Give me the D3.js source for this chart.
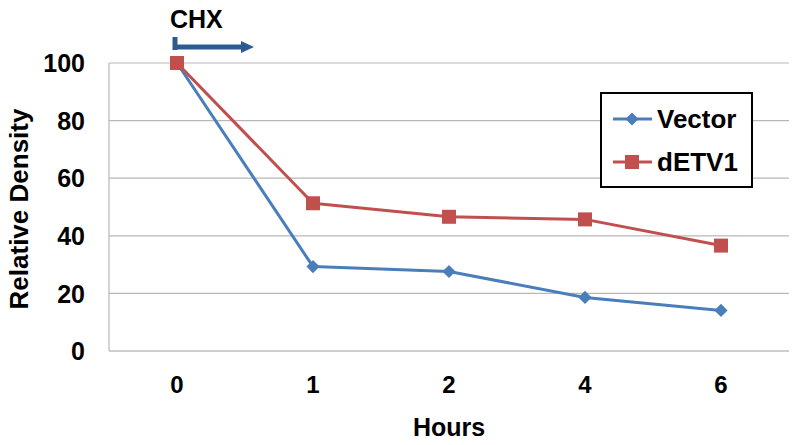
<!DOCTYPE html>
<html>
<head>
<meta charset="utf-8">
<script src="https://cdn.jsdelivr.net/npm/d3@7"></script>
<style>
  body { margin: 0; background: #fff; }
  text { font-family: "Liberation Sans", Arial, sans-serif; font-weight: bold; fill: #000; }
</style>
</head>
<body>
<div id="chart"></div>
<script>
// Data
const hours = ['0', '1', '2', '4', '6'];
const vector = [100, 29.3, 27.6, 18.6, 14.1];
const detv1 = [100, 51.3, 46.6, 45.7, 36.6];
const yTicks = [0, 20, 40, 60, 80, 100];

const width = 800, height = 445;
const margin = { top: 63, right: 11, bottom: 94, left: 109 };

const svg = d3.select('#chart').append('svg')
  .attr('width', width)
  .attr('height', height);

const x = d3.scaleBand()
  .domain(hours)
  .range([margin.left, width - margin.right]);

const y = d3.scaleLinear()
  .domain([0, 100])
  .range([height - margin.bottom, margin.top]);

const cx = d => x(d) + x.bandwidth() / 2;

// Gridlines
svg.append('g')
  .selectAll('line')
  .data(yTicks)
  .enter()
  .append('line')
  .attr('x1', margin.left)
  .attr('x2', width - margin.right)
  .attr('y1', d => y(d))
  .attr('y2', d => y(d))
  .attr('stroke', d => d === 0 ? '#a0a0a0' : '#b8b8b8')
  .attr('stroke-width', 1.2);

// Left axis line
svg.append('line')
  .attr('x1', margin.left).attr('x2', margin.left)
  .attr('y1', y(0)).attr('y2', y(100))
  .attr('stroke', '#b8b8b8')
  .attr('stroke-width', 1.2);

// Y tick labels
const yAxis = d3.axisLeft(y).tickValues(yTicks).tickSize(0).tickPadding(24);
const yg = svg.append('g')
  .attr('transform', `translate(${margin.left},0)`)
  .call(yAxis);
yg.select('.domain').remove();
yg.selectAll('text')
  .style('font-size', '25px')
  .attr('dy', '0.35em');

// X tick labels
const xAxis = d3.axisBottom(x).tickSize(0).tickPadding(0);
const xg = svg.append('g')
  .attr('transform', `translate(0,${y(0)})`)
  .call(xAxis);
xg.select('.domain').remove();
xg.selectAll('text')
  .style('font-size', '24px')
  .attr('dy', null)
  .attr('y', 42);

// Axis titles
svg.append('text')
  .attr('x', cx('2'))
  .attr('y', 436)
  .attr('text-anchor', 'middle')
  .style('font-size', '25px')
  .text('Hours');

svg.append('text')
  .attr('transform', `translate(28,209) rotate(-90)`)
  .attr('text-anchor', 'middle')
  .style('font-size', '26px')
  .text('Relative Density');

// Series
const series = [
  { name: 'Vector', values: vector, color: '#4A7EBB', marker: 'diamond' },
  { name: 'dETV1', values: detv1, color: '#C0504D', marker: 'square' }
];

const line = d3.line()
  .x((d, i) => cx(hours[i]))
  .y(d => y(d));

function drawMarker(g, type, color) {
  if (type === 'diamond') {
    g.append('path')
      .attr('d', d3.symbol().type(d3.symbolDiamond2).size(110)())
      .attr('fill', color);
  } else {
    g.append('rect')
      .attr('x', -7).attr('y', -7)
      .attr('width', 14).attr('height', 14)
      .attr('fill', color);
  }
}

series.forEach(s => {
  svg.append('path')
    .datum(s.values)
    .attr('fill', 'none')
    .attr('stroke', s.color)
    .attr('stroke-width', 3)
    .attr('stroke-linejoin', 'round')
    .attr('d', line);

  svg.append('g')
    .selectAll('g')
    .data(s.values)
    .enter()
    .append('g')
    .attr('transform', (d, i) => `translate(${cx(hours[i])},${y(d)})`)
    .each(function () { drawMarker(d3.select(this), s.marker, s.color); });
});

// Legend
const legend = svg.append('g').attr('transform', 'translate(601,93)');
legend.append('rect')
  .attr('width', 151)
  .attr('height', 94)
  .attr('fill', '#fff')
  .attr('stroke', '#000')
  .attr('stroke-width', 2);

series.forEach((s, i) => {
  const row = legend.append('g').attr('transform', `translate(0,${26 + i * 43})`);
  row.append('line')
    .attr('x1', 12).attr('x2', 51)
    .attr('stroke', s.color)
    .attr('stroke-width', 3);
  const m = row.append('g').attr('transform', 'translate(31,0)');
  drawMarker(m, s.marker, s.color);
  row.append('text')
    .attr('x', 56)
    .attr('dy', '0.35em')
    .style('font-size', '26px')
    .text(s.name);
});

// CHX annotation
svg.append('text')
  .attr('x', 170)
  .attr('y', 28)
  .style('font-size', '25px')
  .text('CHX');

const arrowColor = '#2C5C8E';
svg.append('path')
  .attr('d', 'M175,37 L175,50 M175,47 L243,47')
  .attr('stroke', arrowColor)
  .attr('stroke-width', 5)
  .attr('fill', 'none');
svg.append('path')
  .attr('d', 'M241,41 L254,47 L241,53 Z')
  .attr('fill', arrowColor);
</script>
</body>
</html>
